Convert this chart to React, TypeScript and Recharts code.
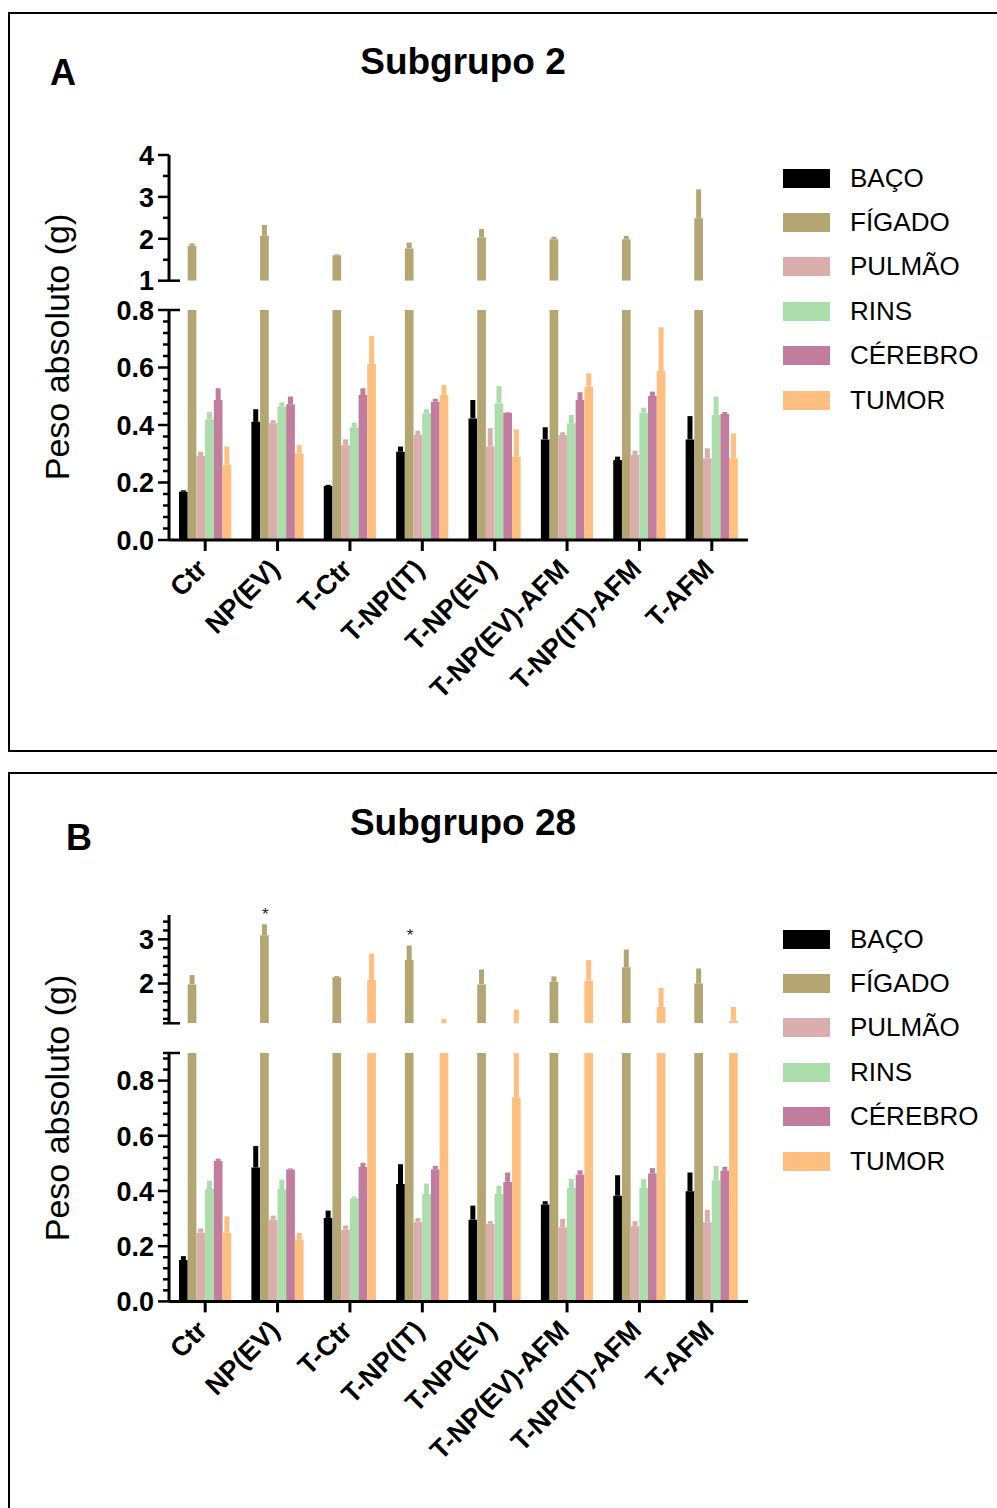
import React from "react";
import { BarChart, Bar, XAxis, YAxis, ErrorBar, LabelList } from "recharts";

const FONTE = '"Liberation Sans", Arial, Helvetica, sans-serif';

const grupos = ["Ctr", "NP(EV)", "T-Ctr", "T-NP(IT)", "T-NP(EV)", "T-NP(EV)-AFM", "T-NP(IT)-AFM", "T-AFM"];
const orgaos = ["BAÇO", "FÍGADO", "PULMÃO", "RINS", "CÉREBRO", "TUMOR"];
const chaves = ["baco", "figado", "pulmao", "rins", "cerebro", "tumor"];
const cores = ["#000000", "#b3a673", "#d9aeac", "#acdeac", "#c27c9e", "#ffbf80"];

// Subgrupo 2: média e desvio (g)
const baco2 = [0.168, 0.411, 0.188, 0.307, 0.423, 0.35, 0.278, 0.35];
const baco2Dp = [0.005, 0.044, 0.004, 0.018, 0.064, 0.042, 0.012, 0.081];
const figado2 = [1.83, 2.07, 1.61, 1.77, 2.03, 1.99, 1.99, 2.49];
const figado2Dp = [0.06, 0.26, 0.02, 0.14, 0.2, 0.06, 0.08, 0.69];
const pulmao2 = [0.292, 0.406, 0.33, 0.365, 0.325, 0.365, 0.296, 0.284];
const pulmao2Dp = [0.015, 0.011, 0.02, 0.015, 0.064, 0.01, 0.015, 0.035];
const rins2 = [0.42, 0.464, 0.392, 0.441, 0.475, 0.406, 0.443, 0.435];
const rins2Dp = [0.026, 0.015, 0.016, 0.014, 0.061, 0.029, 0.017, 0.064];
const cerebro2 = [0.487, 0.472, 0.504, 0.481, 0.443, 0.487, 0.501, 0.438];
const cerebro2Dp = [0.041, 0.027, 0.024, 0.01, 0.002, 0.027, 0.015, 0.007];
const tumor2 = [0.261, 0.301, 0.612, 0.504, 0.29, 0.533, 0.588, 0.284];
const tumor2Dp = [0.064, 0.029, 0.098, 0.035, 0.095, 0.047, 0.152, 0.087];

// Subgrupo 28
const baco28 = [0.15, 0.485, 0.302, 0.425, 0.296, 0.351, 0.383, 0.399];
const baco28Dp = [0.014, 0.078, 0.027, 0.072, 0.051, 0.012, 0.074, 0.068];
const figado28 = [1.98, 3.09, 2.14, 2.53, 1.98, 2.04, 2.37, 2.0];
const figado28Dp = [0.21, 0.25, 0.03, 0.33, 0.34, 0.12, 0.4, 0.34];
const pulmao28 = [0.249, 0.296, 0.26, 0.287, 0.281, 0.269, 0.272, 0.287];
const pulmao28Dp = [0.015, 0.015, 0.015, 0.015, 0.01, 0.03, 0.019, 0.045];
const rins28 = [0.407, 0.407, 0.373, 0.389, 0.389, 0.411, 0.411, 0.439];
const rins28Dp = [0.03, 0.034, 0.007, 0.038, 0.03, 0.032, 0.032, 0.052];
const cerebro28 = [0.509, 0.478, 0.487, 0.479, 0.433, 0.459, 0.463, 0.473];
const cerebro28Dp = [0.008, 0.004, 0.015, 0.012, 0.034, 0.016, 0.02, 0.015];
const tumor28 = [0.249, 0.224, 2.08, 1.1, 0.74, 2.06, 1.47, 1.16];
const tumor28Dp = [0.059, 0.024, 0.6, 0.1, 0.67, 0.47, 0.43, 0.31];
const estrelas28 = ["", "*", "", "*", "", "", "", ""];

// ticks dos eixos quebrados
const maioresA1 = [1, 2, 3, 4];
const maioresA0 = [0, 0.2, 0.4, 0.6, 0.8];
const maioresB1 = [2, 3];
const maioresB0 = [0, 0.2, 0.4, 0.6, 0.8];

const EIXO_W = 72;
const EIXO_X = 168.5;
const PLOT_W = 579;
const MT = 15;
const MB = 22;
const XAXIS_H = 185;

function passos(ini: number, fim: number, passo: number) {
  const out: number[] = [];
  for (let v = ini; v <= fim + 1e-9; v += passo) out.push(Math.round(v * 1000) / 1000);
  return out;
}

// monta a tabela de um segmento do eixo quebrado (corta o que sai do domínio)
function montarLinhas(medias: number[][], dps: number[][], min: number, max: number, estrelas?: string[]) {
  return grupos.map((g, i) => {
    const row: any = { grupo: g, sig: estrelas ? estrelas[i] : "" };
    medias.forEach((serie, s) => {
      const k = chaves[s];
      const m = serie[i];
      const topo = m + dps[s][i];
      if (topo <= min) {
        row[k] = null;
        row[k + "Err"] = [0, 0];
        return;
      }
      const v = Math.min(Math.max(m, min + 0.003), max);
      const t = Math.min(topo, max);
      row[k] = v;
      row[k + "Err"] = [0, Math.max(t - v, 0)];
    });
    return row;
  });
}

function TickY(props: any) {
  const { y, payload, maiores, cortes, decimais } = props;
  const v = payload.value;
  const maior = maiores.some((m: number) => Math.abs(m - v) < 1e-6);
  const corte = cortes.some((m: number) => Math.abs(m - v) < 1e-6);
  return (
    <g>
      <line x1={EIXO_W - (maior ? 11 : 6)} x2={corte ? EIXO_W + 11 : EIXO_W} y1={y} y2={y} stroke="#000" strokeWidth={2.5} />
      {maior && (
        <text x={EIXO_W - 15} y={y} dy="0.36em" textAnchor="end" fontFamily={FONTE} fontWeight="bold" fontSize={27} fill="#000">
          {v.toFixed(decimais)}
        </text>
      )}
    </g>
  );
}

function TickX(props: any) {
  const { x, y, payload } = props;
  const ax = x - 10;
  const ay = y + 4;
  return (
    <text x={ax} y={ay} dy="0.71em" textAnchor="end" transform={`rotate(-45, ${ax}, ${ay})`} fontFamily={FONTE} fontWeight="bold" fontSize={27} fill="#000">
      {payload.value}
    </text>
  );
}

function barras(linhas: any[], min: number, comEstrela: boolean) {
  return chaves.map((k, s) => (
    <Bar key={k} dataKey={k} name={orgaos[s]} fill={cores[s]} barSize={8.7} isAnimationActive={false}>
      <ErrorBar dataKey={k + "Err"} width={0} strokeWidth={5} stroke={cores[s]} direction="y" isAnimationActive={false} />
      {comEstrela && k === "figado" && (
        <LabelList
          dataKey="sig"
          content={(p: any) => {
            const vb = p.viewBox || p;
            const { x, y, width, height } = vb;
            const r = linhas[p.index];
            if (!r || !r.sig) return null;
            const ppu = height / (r.figado - min);
            const topo = y - r.figadoErr[1] * ppu;
            return (
              <text x={x + width / 2 + 1} y={topo - 4} textAnchor="middle" fontFamily={FONTE} fontSize={17} fill="#222">
                {r.sig}
              </text>
            );
          }}
        />
      )}
    </Bar>
  ));
}

type Eixo = { min: number; max: number; ticks: number[]; maiores: number[]; cortes: number[]; decimais: number; topo: number; base: number };

function Grafico({ linhas, eixo, inferior, estrela }: { linhas: any[]; eixo: Eixo; inferior: boolean; estrela?: boolean }) {
  const plotH = eixo.base - eixo.topo;
  const altura = MT + plotH + (inferior ? XAXIS_H : MB);
  return (
    <div style={{ position: "absolute", left: EIXO_X - EIXO_W, top: eixo.topo - MT }}>
      <BarChart
        width={EIXO_W + PLOT_W}
        height={altura}
        data={linhas}
        margin={{ top: MT, right: 0, bottom: inferior ? 0 : MB, left: 0 }}
        barCategoryGap={10}
        barGap={0}
      >
        <XAxis
          dataKey="grupo"
          hide={!inferior}
          height={XAXIS_H}
          interval={0}
          axisLine={{ stroke: "#000", strokeWidth: 3 }}
          tickLine={{ stroke: "#000", strokeWidth: 3 }}
          tickSize={11}
          tick={<TickX />}
        />
        <YAxis
          type="number"
          domain={[eixo.min, eixo.max]}
          allowDataOverflow
          ticks={eixo.ticks}
          interval={0}
          width={EIXO_W}
          axisLine={{ stroke: "#000", strokeWidth: 3 }}
          tickLine={false}
          tick={(p: any) => <TickY {...p} maiores={eixo.maiores} cortes={eixo.cortes} decimais={eixo.decimais} />}
        />
        {barras(linhas, eixo.min, !!estrela)}
      </BarChart>
    </div>
  );
}

function Legenda({ topo }: { topo: number }) {
  return (
    <>
      {orgaos.map((nome, i) => (
        <div key={nome} style={{ position: "absolute", left: 783, top: topo + i * 44.4 - 20, height: 40, display: "flex", alignItems: "center" }}>
          <div style={{ width: 47, height: 19, background: cores[i] }} />
          <span style={{ marginLeft: 20, fontFamily: FONTE, fontSize: 26, color: "#000", whiteSpace: "nowrap" }}>{nome}</span>
        </div>
      ))}
    </>
  );
}

function Textos({ letra, lx, ly, titulo, ty, yLabel }: { letra: string; lx: number; ly: number; titulo: string; ty: number; yLabel: number }) {
  return (
    <>
      <div style={{ position: "absolute", left: lx, top: ly - 20, lineHeight: "40px", fontFamily: FONTE, fontWeight: "bold", fontSize: 36 }}>{letra}</div>
      <div style={{ position: "absolute", left: 263, width: 400, top: ty - 20, lineHeight: "40px", textAlign: "center", fontFamily: FONTE, fontWeight: "bold", fontSize: 37 }}>
        {titulo}
      </div>
      <div
        style={{
          position: "absolute",
          left: 57,
          top: yLabel,
          transform: "translate(-50%, -50%) rotate(-90deg)",
          whiteSpace: "nowrap",
          fontFamily: FONTE,
          fontSize: 34,
          lineHeight: "38px",
        }}
      >
        Peso absoluto (g)
      </div>
    </>
  );
}

export default function App() {
  const medias2 = [baco2, figado2, pulmao2, rins2, cerebro2, tumor2];
  const dps2 = [baco2Dp, figado2Dp, pulmao2Dp, rins2Dp, cerebro2Dp, tumor2Dp];
  const medias28 = [baco28, figado28, pulmao28, rins28, cerebro28, tumor28];
  const dps28 = [baco28Dp, figado28Dp, pulmao28Dp, rins28Dp, cerebro28Dp, tumor28Dp];

  const eixoA1: Eixo = { min: 1, max: 4, ticks: passos(1, 4, 0.5), maiores: maioresA1, cortes: [1], decimais: 0, topo: 155, base: 280.7 };
  const eixoA0: Eixo = { min: 0, max: 0.8, ticks: passos(0, 0.8, 0.04), maiores: maioresA0, cortes: [0.8], decimais: 1, topo: 310, base: 540 };
  const eixoB1: Eixo = { min: 1.1, max: 3.55, ticks: [1.1, ...passos(1.2, 3.4, 0.2)], maiores: maioresB1, cortes: [1.1], decimais: 0, topo: 915, base: 1023.3 };
  const eixoB0: Eixo = { min: 0, max: 0.9, ticks: [...passos(0, 0.88, 0.04), 0.9], maiores: maioresB0, cortes: [0.9], decimais: 1, topo: 1053.3, base: 1301.7 };

  const linhasA1 = montarLinhas(medias2, dps2, eixoA1.min, eixoA1.max);
  const linhasA0 = montarLinhas(medias2, dps2, eixoA0.min, eixoA0.max);
  const linhasB1 = montarLinhas(medias28, dps28, eixoB1.min, eixoB1.max, estrelas28);
  const linhasB0 = montarLinhas(medias28, dps28, eixoB0.min, eixoB0.max);

  return (
    <div style={{ position: "absolute", left: 0, top: 0, width: 997, height: 1508, overflow: "hidden", background: "#fff" }}>
      <div style={{ position: "absolute", left: 8, top: 12, width: 1000, height: 740, border: "2.5px solid #000", boxSizing: "border-box" }} />
      <div style={{ position: "absolute", left: 8, top: 772, width: 1000, height: 800, border: "2.5px solid #000", boxSizing: "border-box" }} />

      <Textos letra="A" lx={50} ly={73} titulo="Subgrupo 2" ty={62} yLabel={347} />
      <Grafico linhas={linhasA1} eixo={eixoA1} inferior={false} />
      <Grafico linhas={linhasA0} eixo={eixoA0} inferior />
      <Legenda topo={178} />

      <Textos letra="B" lx={66} ly={838} titulo="Subgrupo 28" ty={823} yLabel={1108} />
      <Grafico linhas={linhasB1} eixo={eixoB1} inferior={false} estrela />
      <Grafico linhas={linhasB0} eixo={eixoB0} inferior />
      <Legenda topo={939} />
    </div>
  );
}
